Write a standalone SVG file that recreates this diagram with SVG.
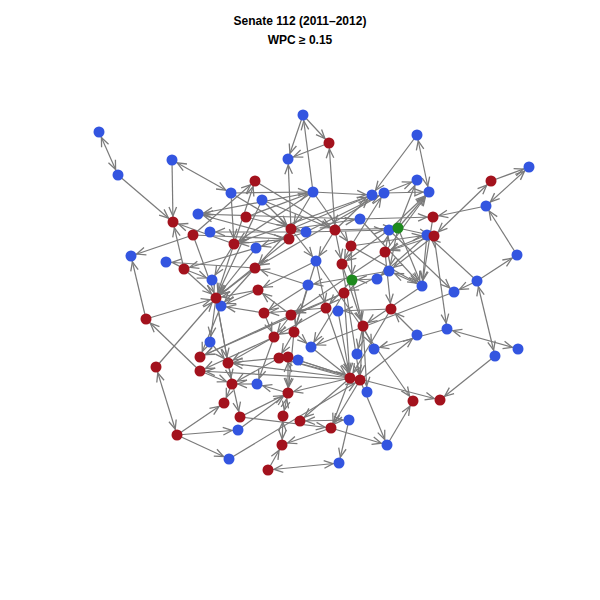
<svg xmlns="http://www.w3.org/2000/svg" width="600" height="600" viewBox="0 0 600 600">
<style>
.t{font-family:"Liberation Sans",Arial,sans-serif;font-size:12px;font-weight:bold;fill:#000;text-anchor:middle}
#edges line{stroke:#7a7a7a;stroke-width:1.2;marker-end:url(#a)}
#edges line.d{marker-start:url(#a)}
.b circle{fill:#3355e0}
.r circle{fill:#a3121d}
.g circle{fill:#1e8a1e}
</style>
<defs>
<marker id="a" viewBox="0 0 16 10" refX="16" refY="5" markerWidth="16" markerHeight="10" markerUnits="userSpaceOnUse" orient="auto-start-reverse">
<path d="M1,1.2 L10,5 L1,8.8" fill="none" stroke="#7a7a7a" stroke-width="1.3"/>
</marker>
</defs>
<rect width="600" height="600" fill="#fff"/>
<text class="t" x="300" y="25">Senate 112 (2011–2012)</text>
<text class="t" x="300" y="44">WPC ≥ 0.15</text>
<g id="edges">
<line class="d" x1="99" y1="132" x2="118" y2="175"/>
<line x1="118" y1="175" x2="173" y2="222"/>
<line x1="172" y1="160" x2="173" y2="222"/>
<line class="d" x1="172" y1="160" x2="231" y2="193"/>
<line x1="303" y1="115" x2="288" y2="159"/>
<line x1="303" y1="115" x2="329" y2="143"/>
<line x1="329" y1="143" x2="288" y2="159"/>
<line x1="313" y1="192" x2="303" y2="115"/>
<line class="d" x1="329" y1="143" x2="335" y2="230"/>
<line x1="291" y1="229" x2="288" y2="159"/>
<line class="d" x1="417" y1="135" x2="429" y2="192"/>
<line x1="417" y1="135" x2="372" y2="195"/>
<line x1="491" y1="181" x2="529" y2="167"/>
<line class="d" x1="529" y1="167" x2="486" y2="206"/>
<line class="d" x1="491" y1="181" x2="434" y2="236"/>
<line x1="486" y1="206" x2="433" y2="217"/>
<line x1="517" y1="255" x2="486" y2="206"/>
<line x1="477" y1="281" x2="517" y2="255"/>
<line x1="477" y1="281" x2="454" y2="292"/>
<line class="d" x1="477" y1="281" x2="495" y2="356"/>
<line class="d" x1="447" y1="329" x2="518" y2="349"/>
<line x1="434" y1="236" x2="447" y2="329"/>
<line x1="427" y1="235" x2="422" y2="286"/>
<line x1="477" y1="281" x2="427" y2="235"/>
<line x1="422" y1="286" x2="389" y2="271"/>
<line x1="417" y1="335" x2="391" y2="309"/>
<line x1="360" y1="380" x2="417" y2="335"/>
<line x1="495" y1="356" x2="440" y2="400"/>
<line x1="279" y1="358" x2="440" y2="400"/>
<line x1="387" y1="445" x2="413" y2="401"/>
<line x1="316" y1="261" x2="413" y2="401"/>
<line x1="360" y1="380" x2="387" y2="445"/>
<line x1="229" y1="459" x2="360" y2="380"/>
<line class="d" x1="268" y1="470" x2="339" y2="463"/>
<line x1="349" y1="420" x2="339" y2="463"/>
<line x1="331" y1="428" x2="282" y2="445"/>
<line class="d" x1="300" y1="421" x2="349" y2="420"/>
<line x1="331" y1="428" x2="387" y2="445"/>
<line class="d" x1="283" y1="416" x2="282" y2="445"/>
<line class="d" x1="288" y1="393" x2="283" y2="416"/>
<line class="d" x1="288" y1="357" x2="288" y2="393"/>
<line x1="288" y1="393" x2="257" y2="384"/>
<line x1="350" y1="378" x2="288" y2="393"/>
<line x1="268" y1="470" x2="282" y2="445"/>
<line class="d" x1="156" y1="367" x2="177" y2="435"/>
<line x1="177" y1="435" x2="224" y2="403"/>
<line x1="177" y1="435" x2="238" y2="430"/>
<line x1="177" y1="435" x2="229" y2="459"/>
<line x1="156" y1="367" x2="216" y2="298"/>
<line x1="146" y1="319" x2="131" y2="256"/>
<line x1="200" y1="371" x2="146" y2="319"/>
<line x1="146" y1="319" x2="216" y2="298"/>
<line x1="193" y1="235" x2="131" y2="256"/>
<line x1="193" y1="235" x2="255" y2="181"/>
<line x1="255" y1="181" x2="335" y2="230"/>
<line x1="313" y1="192" x2="198" y2="214"/>
<line x1="360" y1="219" x2="198" y2="214"/>
<line x1="289" y1="239" x2="198" y2="214"/>
<line x1="306" y1="232" x2="210" y2="232"/>
<line x1="313" y1="192" x2="372" y2="195"/>
<line x1="246" y1="217" x2="313" y2="192"/>
<line x1="231" y1="193" x2="234" y2="244"/>
<line x1="398" y1="228" x2="417" y2="180"/>
<line x1="398" y1="228" x2="429" y2="192"/>
<line x1="384" y1="193" x2="429" y2="192"/>
<line x1="384" y1="193" x2="417" y2="180"/>
<line x1="231" y1="193" x2="313" y2="192"/>
<line x1="193" y1="235" x2="289" y2="239"/>
<line x1="262" y1="200" x2="291" y2="229"/>
<line x1="262" y1="200" x2="335" y2="230"/>
<line x1="246" y1="217" x2="306" y2="232"/>
<line x1="234" y1="244" x2="255" y2="181"/>
<line x1="313" y1="192" x2="291" y2="229"/>
<line x1="313" y1="192" x2="234" y2="244"/>
<line x1="291" y1="229" x2="372" y2="195"/>
<line x1="306" y1="232" x2="384" y2="193"/>
<line x1="335" y1="230" x2="372" y2="195"/>
<line x1="351" y1="246" x2="384" y2="193"/>
<line x1="389" y1="230" x2="429" y2="192"/>
<line x1="385" y1="252" x2="429" y2="192"/>
<line x1="398" y1="228" x2="434" y2="236"/>
<line x1="351" y1="246" x2="427" y2="235"/>
<line x1="360" y1="219" x2="433" y2="217"/>
<line x1="335" y1="230" x2="398" y2="228"/>
<line x1="306" y1="232" x2="389" y2="230"/>
<line x1="291" y1="229" x2="360" y2="219"/>
<line x1="385" y1="252" x2="389" y2="230"/>
<line x1="427" y1="235" x2="385" y2="252"/>
<line x1="434" y1="236" x2="385" y2="252"/>
<line x1="398" y1="228" x2="389" y2="271"/>
<line x1="434" y1="236" x2="389" y2="271"/>
<line x1="427" y1="235" x2="377" y2="279"/>
<line x1="377" y1="279" x2="352" y2="280"/>
<line x1="389" y1="230" x2="454" y2="292"/>
<line x1="398" y1="228" x2="422" y2="286"/>
<line x1="351" y1="246" x2="422" y2="286"/>
<line x1="360" y1="219" x2="422" y2="286"/>
<line x1="422" y1="286" x2="363" y2="326"/>
<line x1="454" y1="292" x2="311" y2="347"/>
<line x1="391" y1="309" x2="338" y2="311"/>
<line x1="385" y1="252" x2="391" y2="309"/>
<line x1="389" y1="271" x2="344" y2="293"/>
<line x1="389" y1="271" x2="308" y2="285"/>
<line x1="351" y1="246" x2="342" y2="264"/>
<line x1="351" y1="246" x2="352" y2="280"/>
<line x1="335" y1="230" x2="342" y2="264"/>
<line x1="335" y1="230" x2="316" y2="261"/>
<line x1="342" y1="264" x2="363" y2="326"/>
<line x1="352" y1="280" x2="363" y2="326"/>
<line x1="316" y1="261" x2="258" y2="290"/>
<line x1="316" y1="261" x2="326" y2="308"/>
<line x1="308" y1="285" x2="255" y2="268"/>
<line x1="308" y1="285" x2="264" y2="313"/>
<line x1="344" y1="293" x2="291" y2="315"/>
<line x1="326" y1="308" x2="264" y2="313"/>
<line x1="326" y1="308" x2="274" y2="337"/>
<line x1="291" y1="315" x2="258" y2="290"/>
<line x1="291" y1="315" x2="274" y2="337"/>
<line x1="264" y1="313" x2="274" y2="337"/>
<line x1="294" y1="332" x2="279" y2="358"/>
<line x1="294" y1="332" x2="311" y2="347"/>
<line x1="338" y1="311" x2="350" y2="378"/>
<line x1="363" y1="326" x2="357" y2="354"/>
<line x1="363" y1="326" x2="374" y2="349"/>
<line x1="363" y1="326" x2="360" y2="380"/>
<line x1="326" y1="308" x2="350" y2="378"/>
<line x1="311" y1="347" x2="350" y2="378"/>
<line x1="298" y1="360" x2="360" y2="380"/>
<line x1="279" y1="358" x2="232" y2="384"/>
<line x1="274" y1="337" x2="228" y2="363"/>
<line x1="274" y1="337" x2="200" y2="371"/>
<line x1="291" y1="315" x2="200" y2="357"/>
<line x1="221" y1="306" x2="200" y2="357"/>
<line x1="255" y1="268" x2="221" y2="306"/>
<line x1="258" y1="290" x2="216" y2="298"/>
<line x1="255" y1="268" x2="216" y2="298"/>
<line x1="184" y1="269" x2="212" y2="280"/>
<line x1="255" y1="268" x2="166" y2="262"/>
<line x1="264" y1="313" x2="221" y2="306"/>
<line x1="228" y1="363" x2="240" y2="417"/>
<line x1="232" y1="384" x2="224" y2="403"/>
<line x1="200" y1="371" x2="232" y2="384"/>
<line x1="210" y1="342" x2="228" y2="363"/>
<line x1="288" y1="357" x2="228" y2="363"/>
<line x1="274" y1="337" x2="257" y2="384"/>
<line x1="294" y1="332" x2="288" y2="393"/>
<line x1="350" y1="378" x2="331" y2="428"/>
<line x1="360" y1="380" x2="331" y2="428"/>
<line x1="350" y1="378" x2="300" y2="421"/>
<line x1="350" y1="378" x2="279" y2="358"/>
<line x1="360" y1="380" x2="288" y2="357"/>
<line x1="391" y1="309" x2="350" y2="378"/>
<line x1="344" y1="293" x2="350" y2="378"/>
<line x1="342" y1="264" x2="360" y2="380"/>
<line x1="447" y1="329" x2="374" y2="349"/>
<line x1="372" y1="195" x2="234" y2="244"/>
<line x1="384" y1="193" x2="255" y2="268"/>
<line x1="256" y1="248" x2="184" y2="269"/>
<line x1="256" y1="248" x2="216" y2="298"/>
<line x1="234" y1="244" x2="216" y2="298"/>
<line x1="289" y1="239" x2="216" y2="298"/>
<line x1="234" y1="244" x2="212" y2="280"/>
<line x1="216" y1="298" x2="210" y2="342"/>
<line x1="216" y1="298" x2="228" y2="363"/>
<line x1="216" y1="298" x2="232" y2="384"/>
<line x1="193" y1="235" x2="216" y2="298"/>
<line x1="184" y1="269" x2="173" y2="222"/>
<line x1="234" y1="244" x2="173" y2="222"/>
<line x1="289" y1="239" x2="234" y2="244"/>
<line x1="291" y1="229" x2="255" y2="268"/>
<line x1="306" y1="232" x2="256" y2="248"/>
<line x1="291" y1="229" x2="316" y2="261"/>
<line x1="262" y1="200" x2="216" y2="298"/>
<line x1="240" y1="417" x2="288" y2="393"/>
<line x1="240" y1="417" x2="331" y2="428"/>
<line x1="238" y1="430" x2="288" y2="393"/>
<line x1="257" y1="384" x2="232" y2="384"/>
<line x1="363" y1="326" x2="367" y2="392"/>
<line x1="258" y1="290" x2="221" y2="306"/>
<line x1="184" y1="269" x2="216" y2="298"/>
<line x1="231" y1="193" x2="291" y2="229"/>
<line x1="313" y1="192" x2="351" y2="246"/>
<line x1="433" y1="217" x2="422" y2="286"/>
<line x1="385" y1="252" x2="291" y2="315"/>
<line x1="389" y1="230" x2="342" y2="264"/>
<line x1="316" y1="261" x2="294" y2="332"/>
<line x1="308" y1="285" x2="294" y2="332"/>
<line x1="352" y1="280" x2="326" y2="308"/>
<line x1="344" y1="293" x2="311" y2="347"/>
<line x1="350" y1="378" x2="228" y2="363"/>
<line x1="360" y1="380" x2="200" y2="371"/>
<line x1="344" y1="293" x2="200" y2="357"/>
</g>
<g id="nodes">
<g id="b1" class="b"><circle cx="99" cy="132" r="5.5"/></g>
<g id="b2" class="b"><circle cx="118" cy="175" r="5.5"/></g>
<g id="b3" class="b"><circle cx="172" cy="160" r="5.5"/></g>
<g id="b4" class="b"><circle cx="231" cy="193" r="5.5"/></g>
<g id="b5" class="b"><circle cx="198" cy="214" r="5.5"/></g>
<g id="b6" class="b"><circle cx="210" cy="232" r="5.5"/></g>
<g id="b7" class="b"><circle cx="303" cy="115" r="5.5"/></g>
<g id="b8" class="b"><circle cx="288" cy="159" r="5.5"/></g>
<g id="b9" class="b"><circle cx="262" cy="200" r="5.5"/></g>
<g id="b10" class="b"><circle cx="313" cy="192" r="5.5"/></g>
<g id="b11" class="b"><circle cx="306" cy="232" r="5.5"/></g>
<g id="b12" class="b"><circle cx="360" cy="219" r="5.5"/></g>
<g id="b13" class="b"><circle cx="372" cy="195" r="5.5"/></g>
<g id="b14" class="b"><circle cx="384" cy="193" r="5.5"/></g>
<g id="b15" class="b"><circle cx="389" cy="230" r="5.5"/></g>
<g id="b16" class="b"><circle cx="417" cy="135" r="5.5"/></g>
<g id="b17" class="b"><circle cx="417" cy="180" r="5.5"/></g>
<g id="b18" class="b"><circle cx="429" cy="192" r="5.5"/></g>
<g id="b19" class="b"><circle cx="529" cy="167" r="5.5"/></g>
<g id="b20" class="b"><circle cx="486" cy="206" r="5.5"/></g>
<g id="b21" class="b"><circle cx="427" cy="235" r="5.5"/></g>
<g id="b22" class="b"><circle cx="131" cy="256" r="5.5"/></g>
<g id="b23" class="b"><circle cx="166" cy="262" r="5.5"/></g>
<g id="b24" class="b"><circle cx="256" cy="248" r="5.5"/></g>
<g id="b25" class="b"><circle cx="212" cy="280" r="5.5"/></g>
<g id="b26" class="b"><circle cx="221" cy="306" r="5.5"/></g>
<g id="b27" class="b"><circle cx="210" cy="342" r="5.5"/></g>
<g id="b28" class="b"><circle cx="316" cy="261" r="5.5"/></g>
<g id="b29" class="b"><circle cx="389" cy="271" r="5.5"/></g>
<g id="b30" class="b"><circle cx="377" cy="279" r="5.5"/></g>
<g id="b31" class="b"><circle cx="308" cy="285" r="5.5"/></g>
<g id="b32" class="b"><circle cx="338" cy="311" r="5.5"/></g>
<g id="b33" class="b"><circle cx="311" cy="347" r="5.5"/></g>
<g id="b34" class="b"><circle cx="357" cy="354" r="5.5"/></g>
<g id="b35" class="b"><circle cx="374" cy="349" r="5.5"/></g>
<g id="b36" class="b"><circle cx="298" cy="360" r="5.5"/></g>
<g id="b37" class="b"><circle cx="422" cy="286" r="5.5"/></g>
<g id="b38" class="b"><circle cx="454" cy="292" r="5.5"/></g>
<g id="b39" class="b"><circle cx="477" cy="281" r="5.5"/></g>
<g id="b40" class="b"><circle cx="517" cy="255" r="5.5"/></g>
<g id="b41" class="b"><circle cx="447" cy="329" r="5.5"/></g>
<g id="b42" class="b"><circle cx="417" cy="335" r="5.5"/></g>
<g id="b43" class="b"><circle cx="495" cy="356" r="5.5"/></g>
<g id="b44" class="b"><circle cx="518" cy="349" r="5.5"/></g>
<g id="b45" class="b"><circle cx="257" cy="384" r="5.5"/></g>
<g id="b46" class="b"><circle cx="367" cy="392" r="5.5"/></g>
<g id="b47" class="b"><circle cx="238" cy="430" r="5.5"/></g>
<g id="b48" class="b"><circle cx="229" cy="459" r="5.5"/></g>
<g id="b49" class="b"><circle cx="349" cy="420" r="5.5"/></g>
<g id="b50" class="b"><circle cx="387" cy="445" r="5.5"/></g>
<g id="b51" class="b"><circle cx="339" cy="463" r="5.5"/></g>
<g id="r1" class="r"><circle cx="173" cy="222" r="5.5"/></g>
<g id="r2" class="r"><circle cx="193" cy="235" r="5.5"/></g>
<g id="r3" class="r"><circle cx="329" cy="143" r="5.5"/></g>
<g id="r4" class="r"><circle cx="255" cy="181" r="5.5"/></g>
<g id="r5" class="r"><circle cx="246" cy="217" r="5.5"/></g>
<g id="r6" class="r"><circle cx="291" cy="229" r="5.5"/></g>
<g id="r7" class="r"><circle cx="289" cy="239" r="5.5"/></g>
<g id="r8" class="r"><circle cx="335" cy="230" r="5.5"/></g>
<g id="r9" class="r"><circle cx="491" cy="181" r="5.5"/></g>
<g id="r10" class="r"><circle cx="433" cy="217" r="5.5"/></g>
<g id="r11" class="r"><circle cx="434" cy="236" r="5.5"/></g>
<g id="r12" class="r"><circle cx="234" cy="244" r="5.5"/></g>
<g id="r13" class="r"><circle cx="351" cy="246" r="5.5"/></g>
<g id="r14" class="r"><circle cx="184" cy="269" r="5.5"/></g>
<g id="r15" class="r"><circle cx="255" cy="268" r="5.5"/></g>
<g id="r16" class="r"><circle cx="216" cy="298" r="5.5"/></g>
<g id="r17" class="r"><circle cx="146" cy="319" r="5.5"/></g>
<g id="r18" class="r"><circle cx="258" cy="290" r="5.5"/></g>
<g id="r19" class="r"><circle cx="342" cy="264" r="5.5"/></g>
<g id="r20" class="r"><circle cx="385" cy="252" r="5.5"/></g>
<g id="r21" class="r"><circle cx="344" cy="293" r="5.5"/></g>
<g id="r22" class="r"><circle cx="264" cy="313" r="5.5"/></g>
<g id="r23" class="r"><circle cx="291" cy="315" r="5.5"/></g>
<g id="r24" class="r"><circle cx="326" cy="308" r="5.5"/></g>
<g id="r25" class="r"><circle cx="363" cy="326" r="5.5"/></g>
<g id="r26" class="r"><circle cx="391" cy="309" r="5.5"/></g>
<g id="r27" class="r"><circle cx="274" cy="337" r="5.5"/></g>
<g id="r28" class="r"><circle cx="294" cy="332" r="5.5"/></g>
<g id="r29" class="r"><circle cx="200" cy="357" r="5.5"/></g>
<g id="r30" class="r"><circle cx="279" cy="358" r="5.5"/></g>
<g id="r31" class="r"><circle cx="288" cy="357" r="5.5"/></g>
<g id="r32" class="r"><circle cx="156" cy="367" r="5.5"/></g>
<g id="r33" class="r"><circle cx="200" cy="371" r="5.5"/></g>
<g id="r34" class="r"><circle cx="228" cy="363" r="5.5"/></g>
<g id="r35" class="r"><circle cx="232" cy="384" r="5.5"/></g>
<g id="r36" class="r"><circle cx="350" cy="378" r="5.5"/></g>
<g id="r37" class="r"><circle cx="360" cy="380" r="5.5"/></g>
<g id="r38" class="r"><circle cx="288" cy="393" r="5.5"/></g>
<g id="r39" class="r"><circle cx="224" cy="403" r="5.5"/></g>
<g id="r40" class="r"><circle cx="240" cy="417" r="5.5"/></g>
<g id="r41" class="r"><circle cx="177" cy="435" r="5.5"/></g>
<g id="r42" class="r"><circle cx="283" cy="416" r="5.5"/></g>
<g id="r43" class="r"><circle cx="300" cy="421" r="5.5"/></g>
<g id="r44" class="r"><circle cx="331" cy="428" r="5.5"/></g>
<g id="r45" class="r"><circle cx="282" cy="445" r="5.5"/></g>
<g id="r46" class="r"><circle cx="268" cy="470" r="5.5"/></g>
<g id="r47" class="r"><circle cx="413" cy="401" r="5.5"/></g>
<g id="r48" class="r"><circle cx="440" cy="400" r="5.5"/></g>
<g id="g1" class="g"><circle cx="398" cy="228" r="5.5"/></g>
<g id="g2" class="g"><circle cx="352" cy="280" r="5.5"/></g>
</g>
</svg>
